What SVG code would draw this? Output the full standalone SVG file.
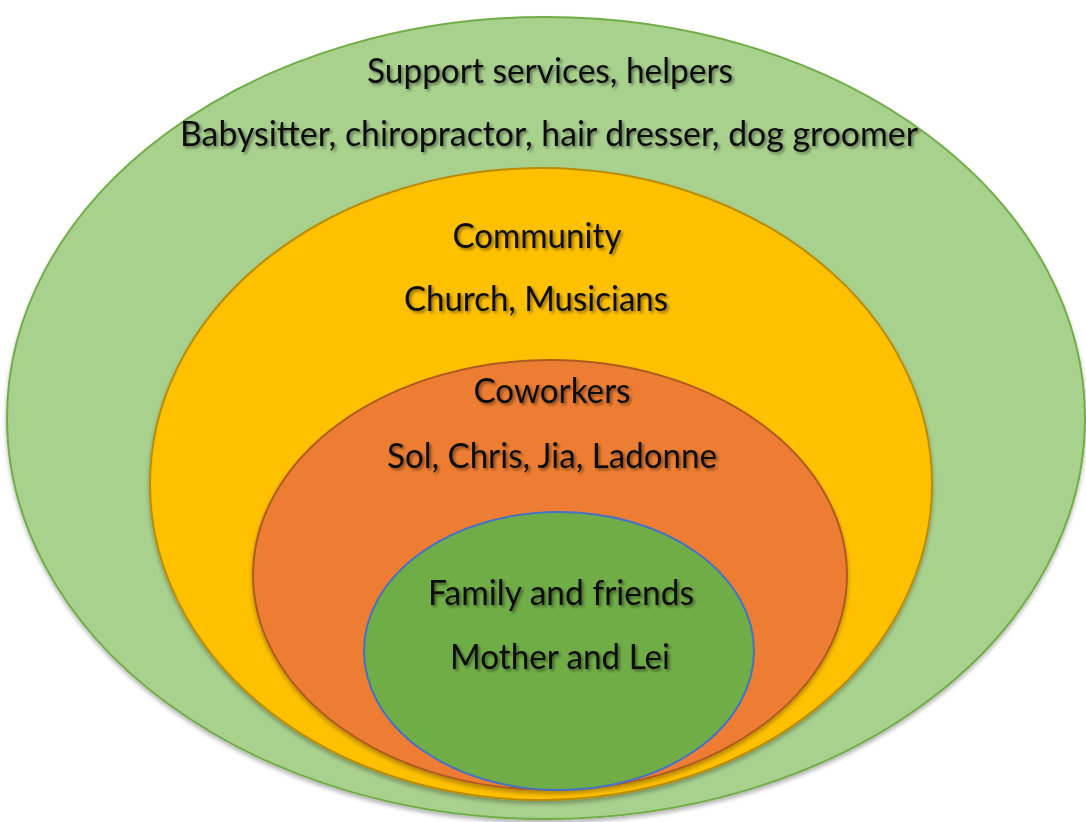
<svg xmlns="http://www.w3.org/2000/svg" width="1086" height="822" viewBox="0 0 1086 822">
  <defs>
    <filter id="txtShadow" x="-10%" y="-30%" width="120%" height="160%">
      <feGaussianBlur in="SourceAlpha" stdDeviation="1.6"/>
      <feOffset dx="1.5" dy="2" result="b"/>
      <feComponentTransfer><feFuncA type="linear" slope="0.45"/></feComponentTransfer>
      <feMerge><feMergeNode/><feMergeNode in="SourceGraphic"/></feMerge>
    </filter>
    <filter id="ringShadow" x="-5%" y="-5%" width="110%" height="112%">
      <feGaussianBlur in="SourceAlpha" stdDeviation="2"/>
      <feOffset dx="0" dy="3"/>
      <feComponentTransfer><feFuncA type="linear" slope="0.3"/></feComponentTransfer>
      <feMerge><feMergeNode/><feMergeNode in="SourceGraphic"/></feMerge>
    </filter>
  </defs>
  <style>
    .lbl { font-family: Lato, "Open Sans", "Liberation Sans", sans-serif; font-size: 35px; fill: #111; text-anchor: middle; filter: url(#txtShadow); }
    .ring { stroke-width: 2; filter: url(#ringShadow); }
  </style>
  <rect width="1086" height="822" fill="#ffffff"/>

  <g id="support">
    <ellipse class="ring" cx="546" cy="418" rx="539" ry="401" fill="#A9D18E" stroke="#70AD47"/>
    <text class="lbl" x="550" y="83" textLength="366" lengthAdjust="spacingAndGlyphs">Support services, helpers</text>
    <text class="lbl" x="549" y="146" textLength="738" lengthAdjust="spacingAndGlyphs">Babysitter, chiropractor, hair dresser, dog groomer</text>
  </g>

  <g id="community">
    <ellipse class="ring" cx="541" cy="484" rx="391" ry="316" fill="#FFC000" stroke="#BC8C00"/>
    <text class="lbl" x="537" y="248" textLength="169" lengthAdjust="spacingAndGlyphs">Community</text>
    <text class="lbl" x="536" y="311" textLength="264" lengthAdjust="spacingAndGlyphs">Church, Musicians</text>
  </g>

  <g id="coworkers">
    <ellipse class="ring" cx="550" cy="575" rx="297" ry="215" fill="#ED7D31" stroke="#AE5A21"/>
    <text class="lbl" x="552" y="403" textLength="157" lengthAdjust="spacingAndGlyphs">Coworkers</text>
    <text class="lbl" x="552" y="468" textLength="330" lengthAdjust="spacingAndGlyphs">Sol, Chris, Jia, Ladonne</text>
  </g>

  <g id="family">
    <ellipse cx="559" cy="651" rx="195" ry="139" fill="#70AD47" stroke="#4472C4" stroke-width="2"/>
    <text class="lbl" x="561" y="605" textLength="266" lengthAdjust="spacingAndGlyphs">Family and friends</text>
    <text class="lbl" x="560" y="669" textLength="220" lengthAdjust="spacingAndGlyphs">Mother and Lei</text>
  </g>
</svg>
